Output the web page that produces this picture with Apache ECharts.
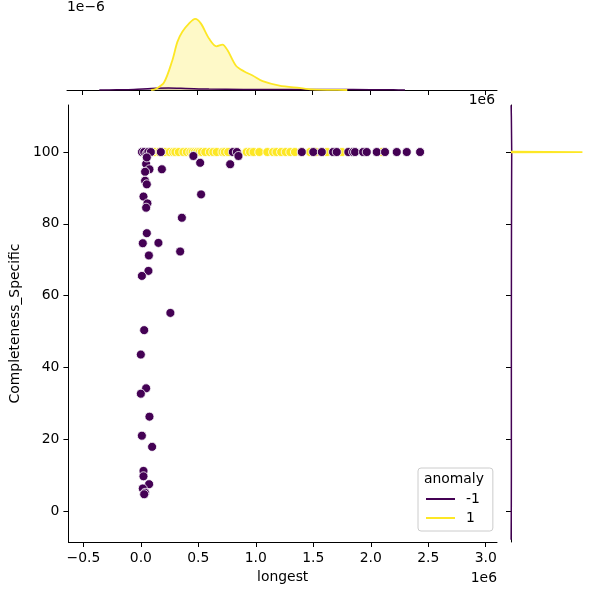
<!DOCTYPE html>
<html>
<head>
<meta charset="utf-8">
<style>
    html, body { margin: 0; padding: 0; background: #fff; }
    #joint-chart { width: 600px; height: 600px; }
</style>
<script src="https://cdn.jsdelivr.net/npm/echarts@6/dist/echarts.min.js"></script>
</head>
<body>
<div id="joint-chart"></div>
<script>
    // longest in units of 1e6
    var purpleLongest = [0.010, 0.029, 0.050, 0.065, 0.087, 0.174, 0.800, 0.835, 1.400, 1.500, 1.574, 1.672, 1.704, 1.805, 1.846, 1.863, 1.933, 1.965, 2.052, 2.124, 2.226, 2.313, 2.429,
        0.457, 0.516, 0.777, 0.849, 0.046, 0.052, 0.075, 0.037, 0.183,
        0.037, 0.052, 0.023, 0.057, 0.046, 0.524, 0.357, 0.052, 0.017, 0.153, 0.070, 0.342, 0.066, 0.009, 0.257, 0.029, 0.000, 0.046, 0.000, 0.075, 0.009, 0.098, 0.023, 0.023, 0.072, 0.017, 0.037, 0.029];
    var purpleCompleteness = [100, 100, 99.5, 100, 100, 100, 100, 100, 100, 100, 100, 100, 100, 100, 100, 100, 100, 100, 100, 100, 100, 100, 100,
        98.9, 97.0, 96.6, 98.9, 96.7, 98.5, 95.2, 94.5, 95.2,
        92.0, 91.0, 87.6, 85.7, 84.5, 88.2, 81.7, 77.4, 74.6, 74.7, 71.2, 72.3, 66.9, 65.5, 55.2, 50.4, 43.6, 34.2, 32.7, 26.3, 21.0, 17.9, 11.2, 9.7, 7.5, 6.3, 5.1, 4.7];

    var yellowLongest = [0.12, 0.16, 0.21, 0.25, 0.28, 0.30, 0.33, 0.37, 0.40, 0.43, 0.45, 0.47, 0.49, 0.51, 0.53, 0.56, 0.60, 0.63, 0.66, 0.71, 0.73, 0.76, 0.84,
        0.92, 0.95, 0.98, 1.03, 1.10, 1.15, 1.18, 1.22, 1.26, 1.30, 1.34, 1.40, 1.47, 1.52, 1.62, 1.75, 2.10];
    var yellowCompleteness = [100, 100, 100, 100, 100, 100, 100, 100, 100, 100, 100, 100, 100, 100, 100, 100, 100, 100, 100, 100, 100, 100, 100,
        100, 100, 100, 100, 100, 100, 100, 100, 100, 100, 100, 100, 100, 100, 100, 100, 100];

    // marginal densities (top in units of 1e-6)
    var topYellowX = [0.10, 0.139, 0.211, 0.283, 0.327, 0.370, 0.429, 0.481, 0.530, 0.603, 0.666, 0.718, 0.762, 0.835, 0.907, 0.979, 1.066, 1.211, 1.385, 1.498, 1.646, 1.80];
    var topYellowD = [0, 0.023, 0.17, 0.67, 1.09, 1.32, 1.51, 1.61, 1.51, 1.16, 0.99, 1.03, 0.90, 0.55, 0.42, 0.33, 0.20, 0.10, 0.046, 0.014, 0.003, 0];
    var topPurpleX = [-0.35, -0.20, -0.05, 0.10, 0.25, 0.40, 0.60, 0.90, 1.30, 1.70, 2.00, 2.20, 2.30];
    var topPurpleD = [0, 0.004, 0.012, 0.035, 0.045, 0.035, 0.020, 0.013, 0.012, 0.012, 0.008, 0.003, 0];
    var rightYellowY = [99.9, 100, 100.1];
    var rightYellowD = [0, 1.0, 0];
    var rightPurpleY = [-8, 0, 10, 30, 50, 70, 90, 100, 110, 113];
    var rightPurpleD = [0.002, 0.004, 0.005, 0.005, 0.005, 0.006, 0.008, 0.010, 0.005, 0.002];

    var xTicks = [-0.5, 0, 0.5, 1.0, 1.5, 2.0, 2.5, 3.0];
    var yTicks = [0, 20, 40, 60, 80, 100];

    var purple = "#440154";
    var yellow = "#fde725";
    var font = "DejaVu Sans";

    function zip(a, b) {
        var out = [];
        for (var i = 0; i < a.length; i++) out.push([a[i], b[i]]);
        return out;
    }

    var myChart = echarts.init(document.getElementById("joint-chart"), null, { renderer: "canvas" });

    myChart.setOption({
        animation: false,
        textStyle: { fontFamily: font },
        grid: [
            { left: 67, top: 105, width: 430, height: 437 },
            { left: 67, top: 15, width: 430, height: 75 },
            { left: 511, top: 105, width: 75, height: 437 }
        ],
        xAxis: [{
            gridIndex: 0, type: "value", min: -0.63, max: 3.098,
            name: "longest", nameLocation: "middle", nameGap: 27,
            nameTextStyle: { color: "#000", fontSize: 13.9, fontFamily: font },
            axisLine: { show: true, onZero: false, lineStyle: { color: "#000", width: 1 } },
            axisTick: { show: true, length: 5, customValues: xTicks, lineStyle: { color: "#000" } },
            axisLabel: {
                customValues: xTicks, margin: 9, color: "#000", fontSize: 13.9, fontFamily: font,
                formatter: function (v) { return v.toFixed(1).replace("-", "\u2212"); }
            },
            splitLine: { show: false }
        }, {
            gridIndex: 1, type: "value", min: -0.63, max: 3.098,
            axisLine: { show: true, onZero: false, lineStyle: { color: "#000", width: 1 } },
            axisTick: { show: true, length: 5, customValues: xTicks, lineStyle: { color: "#000" } },
            axisLabel: { show: false },
            splitLine: { show: false }
        }, {
            gridIndex: 2, type: "value", min: 0, max: 1.05, show: false
        }],
        yAxis: [{
            gridIndex: 0, type: "value", min: -8.6, max: 113.1,
            name: "Completeness_Specific", nameLocation: "middle", nameGap: 42,
            nameTextStyle: { color: "#000", fontSize: 13.9, fontFamily: font },
            axisLine: { show: true, onZero: false, lineStyle: { color: "#000", width: 1 } },
            axisTick: { show: true, length: 5, customValues: yTicks, lineStyle: { color: "#000" } },
            axisLabel: { customValues: yTicks, margin: 9, color: "#000", fontSize: 13.9, fontFamily: font },
            splitLine: { show: false }
        }, {
            gridIndex: 1, type: "value", min: 0, max: 1.70, show: false
        }, {
            gridIndex: 2, type: "value", min: -8.6, max: 113.1,
            axisLine: { show: true, onZero: false, lineStyle: { color: "#000", width: 1 } },
            axisTick: { show: true, length: 5, customValues: yTicks, lineStyle: { color: "#000" } },
            axisLabel: { show: false },
            splitLine: { show: false }
        }],
        legend: {
            left: 418, top: 468,
            orient: "vertical",
            selectedMode: false,
            data: [{ name: "-1", icon: "rect" }, { name: "1", icon: "rect" }],
            itemWidth: 29, itemHeight: 2, itemGap: 5,
            padding: [24, 13, 6, 8],
            backgroundColor: "rgba(255,255,255,0.8)",
            borderColor: "#cccccc", borderWidth: 1, borderRadius: 3,
            textStyle: { color: "#000", fontSize: 13.9, fontFamily: font, padding: [0, 0, 0, 6] }
        },
        graphic: [
            { type: "text", z: 100, left: 424, top: 472, style: { text: "anomaly", fill: "#000", font: "13.9px DejaVu Sans" } },
            { type: "text", z: 100, right: 103, top: 571, style: { text: "1e6", fill: "#000", font: "13.9px DejaVu Sans" } },
            { type: "text", z: 100, right: 105, top: 93, style: { text: "1e6", fill: "#000", font: "13.9px DejaVu Sans" } },
            { type: "text", z: 100, left: 67, top: 0, style: { text: "1e\u22126", fill: "#000", font: "13.9px DejaVu Sans" } }
        ],
        series: [
            {
                name: "-1", type: "line", xAxisIndex: 1, yAxisIndex: 1,
                data: zip(topPurpleX, topPurpleD), showSymbol: false, smooth: 0.3,
                lineStyle: { color: purple, width: 1.5 }, itemStyle: { color: purple },
                areaStyle: { color: purple, opacity: 0.25 }
            },
            {
                name: "1", type: "line", xAxisIndex: 1, yAxisIndex: 1,
                data: zip(topYellowX, topYellowD), showSymbol: false, smooth: 0.3,
                lineStyle: { color: yellow, width: 1.8 }, itemStyle: { color: yellow },
                areaStyle: { color: yellow, opacity: 0.25 }
            },
            {
                name: "-1", type: "line", xAxisIndex: 2, yAxisIndex: 2,
                data: zip(rightPurpleD, rightPurpleY), showSymbol: false,
                lineStyle: { color: purple, width: 1.5 }, itemStyle: { color: purple }
            },
            {
                name: "1", type: "line", xAxisIndex: 2, yAxisIndex: 2,
                data: zip(rightYellowD, rightYellowY), showSymbol: false,
                lineStyle: { color: yellow, width: 1.8 }, itemStyle: { color: yellow }
            },
            {
                name: "1", type: "scatter", xAxisIndex: 0, yAxisIndex: 0,
                data: zip(yellowLongest, yellowCompleteness), symbolSize: 9,
                itemStyle: { color: yellow, borderColor: "#fff", borderWidth: 0.8, opacity: 1 }
            },
            {
                name: "-1", type: "scatter", xAxisIndex: 0, yAxisIndex: 0,
                data: zip(purpleLongest, purpleCompleteness), symbolSize: 9,
                itemStyle: { color: purple, borderColor: "#fff", borderWidth: 0.8, opacity: 1 }
            }
        ]
    });
</script>
</body>
</html>
